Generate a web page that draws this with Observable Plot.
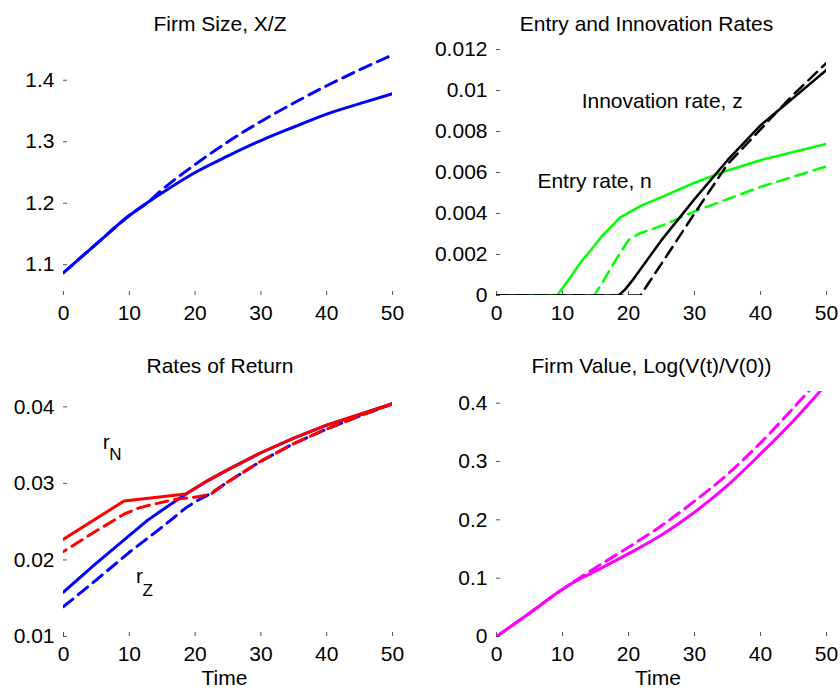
<!DOCTYPE html>
<html><head><meta charset="utf-8">
<script src="https://cdn.jsdelivr.net/npm/d3@7"></script>
<script src="https://cdn.jsdelivr.net/npm/@observablehq/plot@0.6"></script>
<style>
html,body{margin:0;padding:0;background:#fff;}
#wrap{position:relative;width:840px;height:690px;overflow:hidden;background:#fff;}
.panel{position:absolute;}
</style></head><body><div id="wrap"></div>
<script>
// ---- shared ----
const xTicks = [0, 10, 20, 30, 40, 50];
const titles = ["Firm Size, X/Z", "Entry and Innovation Rates", "Rates of Return", "Firm Value, Log(V(t)/V(0))"];
const xLabel = "Time";

// ---- panel 1: firm size ----
const sizeT      = [0, 5, 10, 13, 15, 20, 25, 30, 35, 40, 45, 50];
const sizeSolid  = [1.087, 1.134, 1.180, 1.203, 1.217, 1.250, 1.277, 1.302, 1.324, 1.345, 1.362, 1.378];
const sizeDashed = [1.087, 1.134, 1.180, 1.203, 1.222, 1.263, 1.300, 1.333, 1.363, 1.391, 1.417, 1.441];
const sizeTicks  = [1.1, 1.2, 1.3, 1.4];

// ---- panel 2: entry and innovation ----
const entrySolidT  = [0, 9.2, 11, 12.7, 14, 16, 18.7, 22, 25, 30, 35, 40, 45, 50];
const entrySolid   = [0, 0, 0.0008, 0.0016, 0.0021, 0.0029, 0.0038, 0.0044, 0.0048, 0.0055, 0.0061, 0.0066, 0.0070, 0.0074];
const entryDashedT = [0, 14.8, 16, 18, 20, 21.5, 25, 30, 35, 40, 45, 50];
const entryDashed  = [0, 0, 0.0006, 0.0017, 0.0027, 0.0030, 0.0034, 0.0041, 0.0047, 0.0053, 0.0058, 0.0063];
const innovSolidT  = [0, 18.5, 19.5, 20.5, 25, 30, 35, 40, 45, 50];
const innovSolid   = [0, 0, 0.0003, 0.0007, 0.0027, 0.0047, 0.0066, 0.0083, 0.00965, 0.0110];
const innovDashedT = [0, 21.8, 25, 30, 35, 40, 42, 45, 50];
const innovDashed  = [0, 0, 0.00155, 0.0040, 0.0064, 0.0081, 0.0088, 0.0098, 0.01135];
const rateTicks    = [0, 0.002, 0.004, 0.006, 0.008, 0.01, 0.012];
const rateNotes    = [
  {text: "Innovation rate, z", t: 12.9, v: 0.00917},
  {text: "Entry rate, n", t: 6.2, v: 0.00522}
];

// ---- panel 3: rates of return ----
const rNSolidT  = [0, 9.2, 18.6, 22, 25, 30, 35, 40, 45, 50];
const rNSolid   = [0.0227, 0.0277, 0.0286, 0.0304, 0.0318, 0.0340, 0.0359, 0.0376, 0.0390, 0.0404];
const rNDashedT = [0, 5, 9.25, 11.5, 13.8, 16.9, 20, 22.4, 25, 30, 35, 40, 45, 50];
const rNDashed  = [0.0211, 0.0238, 0.0260, 0.0268, 0.0273, 0.0279, 0.0282, 0.0286, 0.0302, 0.0329, 0.0352, 0.0371, 0.0388, 0.0404];
const rZSolidT  = [0, 4.6, 9.75, 12.8, 14.8, 18.6, 22, 25, 30, 35, 40, 45, 50];
const rZSolid   = [0.0158, 0.0193, 0.0230, 0.0252, 0.0264, 0.0286, 0.0304, 0.0318, 0.0340, 0.0359, 0.0376, 0.0390, 0.0404];
const rZDashedT = [0, 5, 10, 15, 18.6, 20, 22.4, 25, 30, 35, 40, 45, 50];
const rZDashed  = [0.0139, 0.0174, 0.0210, 0.0243, 0.0268, 0.0276, 0.0287, 0.0302, 0.0329, 0.0352, 0.0371, 0.0388, 0.0404];
const returnTicks = [0.01, 0.02, 0.03, 0.04];
const returnNotes = [
  {main: "r", sub: "N", t: 5.97, v: 0.03447},
  {main: "r", sub: "Z", t: 11.0, v: 0.01693}
];

// ---- panel 4: firm value ----
const valueT      = [0, 5, 10, 12, 15, 20, 25, 30, 35, 40, 45, 50];
const valueSolid  = [0, 0.040, 0.081, 0.095, 0.112, 0.142, 0.174, 0.213, 0.259, 0.313, 0.370, 0.433];
const valueDashed = [0, 0.040, 0.081, 0.096, 0.118, 0.153, 0.190, 0.232, 0.278, 0.332, 0.392, 0.455];
const valueTicks  = [0, 0.1, 0.2, 0.3, 0.4];

// ---- helpers ----
const rows = (t, v) => t.map((d, i) => ({t: d, v: v[i]}));
const FONT = "'Liberation Sans', Arial, sans-serif";
const DASH = "12,7";

function line(t, v, stroke, w, dashed, curve, extra = {}) {
  return Plot.line(rows(t, v), {x: "t", y: "v", stroke, strokeWidth: w, curve,
    strokeLinejoin: "round", strokeDasharray: dashed ? DASH : null, clip: true, ...extra});
}

function panel({left, top, height, mt, mb, ml, mr, yDomain, yTicks, title, titleDx, time, marks}) {
  const chart = Plot.plot({
    width: 420, height,
    marginLeft: ml, marginRight: mr, marginTop: mt, marginBottom: mb,
    style: {fontFamily: FONT, fontSize: "21px", color: "#000", background: "transparent", overflow: "visible"},
    x: {domain: [0, 50]},
    y: {domain: yDomain},
    marks: [
      Plot.axisX({ticks: xTicks, tickFormat: d => String(d), tickSize: -4, tickPadding: 14,
        line: true, stroke: "#555", fill: "#000", label: null}),
      Plot.axisY({ticks: yTicks, tickFormat: d => String(d), tickSize: -4, tickPadding: 13,
        line: true, stroke: "#555", fill: "#000", label: null}),
      ...marks,
      Plot.text([title], {frameAnchor: "top", text: d => d, dy: -18.3, dx: titleDx, lineAnchor: "bottom", fontSize: 21, fill: "#000"}),
      time ? Plot.text([xLabel], {frameAnchor: "bottom", text: d => d, dy: 48, dx: -3.5, lineAnchor: "bottom", fontSize: 21, fill: "#000"}) : null
    ]
  });
  const div = document.createElement("div");
  div.className = "panel";
  div.style.left = left + "px";
  div.style.top = top + "px";
  div.appendChild(chart);
  document.getElementById("wrap").appendChild(div);
}

// Panel 1
panel({left: 0, top: 0, height: 330, mt: 49, mb: 35, ml: 63, mr: 28,
  yDomain: [1.05, 1.45], yTicks: sizeTicks, title: titles[0], titleDx: -8, time: false,
  marks: [
    line(sizeT, sizeSolid, "#0000ff", 3, false, "monotone-x"),
    line(sizeT, sizeDashed, "#0000ff", 3, true, "monotone-x")
  ]});

// Panel 2
panel({left: 420, top: 0, height: 330, mt: 49, mb: 35, ml: 76, mr: 14,
  yDomain: [0, 0.012], yTicks: rateTicks, title: titles[1], titleDx: -15, time: false,
  marks: [
    line(entrySolidT, entrySolid, "#00ff00", 2.5, false, "linear"),
    line(entryDashedT, entryDashed, "#00ff00", 2.5, true, "linear"),
    line(innovSolidT, innovSolid, "#000000", 2.5, false, "linear"),
    line(innovDashedT, innovDashed, "#000000", 2.5, true, "linear"),
    Plot.text(rateNotes, {x: "t", y: "v", text: "text", textAnchor: "start", lineAnchor: "bottom", fontSize: 21, fill: "#000"})
  ]});

// Panel 3
panel({left: 0, top: 330, height: 360, mt: 61, mb: 54, ml: 63, mr: 28,
  yDomain: [0.01, 0.042], yTicks: returnTicks, title: titles[2], titleDx: -8, time: true,
  marks: [
    line(rZSolidT, rZSolid, "#0000ff", 3, false, "linear"),
    line(rZDashedT, rZDashed, "#0000ff", 3, true, "linear"),
    line(rNSolidT, rNSolid, "#ff0000", 3, false, "linear"),
    line(rNDashedT, rNDashed, "#ff0000", 3, true, "linear", {strokeDashoffset: 9}),
    Plot.text(returnNotes, {x: "t", y: "v", text: "main", textAnchor: "start", lineAnchor: "bottom", fontSize: 21, fill: "#000"}),
    Plot.text(returnNotes.slice(0, 1), {x: "t", y: "v", text: "sub", textAnchor: "start", lineAnchor: "bottom", fontSize: 17, dx: 6.5, dy: 10.7, fill: "#000"}),
    Plot.text(returnNotes.slice(1), {x: "t", y: "v", text: "sub", textAnchor: "start", lineAnchor: "bottom", fontSize: 17, dx: 6.5, dy: 12.7, fill: "#000"})
  ]});

// Panel 4
panel({left: 420, top: 330, height: 360, mt: 61, mb: 54, ml: 76, mr: 14,
  yDomain: [0, 0.42], yTicks: valueTicks, title: titles[3], titleDx: -10, time: true,
  marks: [
    line(valueT, valueSolid, "#ff00ff", 3, false, "monotone-x"),
    line(valueT, valueDashed, "#ff00ff", 3, true, "monotone-x")
  ]});
</script>
</body></html>
